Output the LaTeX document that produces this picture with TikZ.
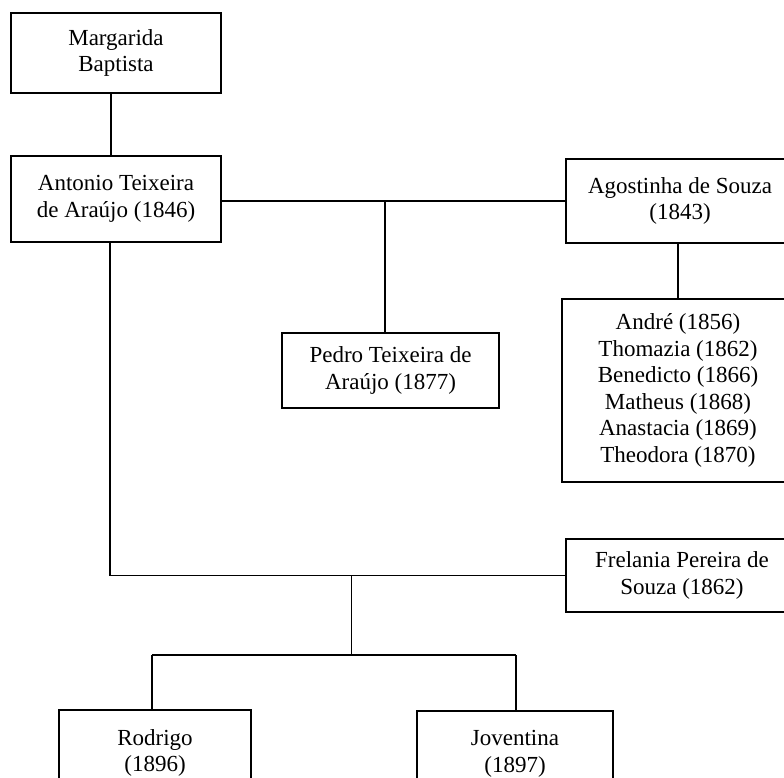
\documentclass[tikz,border=0pt]{standalone}
\usepackage{fontspec}
\setmainfont{Liberation Serif}
\begin{document}
\begin{tikzpicture}[x=1pt,y=-1pt,
  person/.style={draw, line width=1.5pt, inner sep=0pt, align=center,
    font=\fontsize{23}{26.5}\selectfont},
  link/.style={line width=1.2pt}]
\useasboundingbox (0,0) rectangle (784,777);
\clip (0,0) rectangle (784,777);

% family members
\node[person, minimum width=210pt, minimum height=80pt] (marg) at (116,53) {Margarida\\Baptista};
\node[person, minimum width=210pt, minimum height=86pt] (anto) at (116,199) {Antonio Teixeira\\de Ara\'ujo (1846)};
\node[person, minimum width=228pt, minimum height=84pt] (agos) at (680,201) {Agostinha de Souza\\(1843)};
\node[person, minimum width=217pt, minimum height=75pt] (pedro) at (390.5,370.5) {Pedro Teixeira de\\Ara\'ujo (1877)};
\node[person, minimum width=232pt, minimum height=183pt] (kids) at (678,390.5) {Andr\'e (1856)\\Thomazia (1862)\\Benedicto (1866)\\Matheus (1868)\\Anastacia (1869)\\Theodora (1870)};
\node[person, minimum width=232pt, minimum height=73pt] (frel) at (682,575.5) {Frelania Pereira de\\Souza (1862)};
\node[person, minimum width=192pt, minimum height=86pt] (rod) at (155,753) {Rodrigo\\(1896)};
\node[person, minimum width=196pt, minimum height=86pt] (jov) at (515,754) {Joventina\\(1897)};

% junction points
\coordinate (xm) at (111,0);
\coordinate (xa) at (110,0);
\coordinate (jp) at (385,201);
\coordinate (xk) at (678,0);
\coordinate (jf) at (351.5,576);
\coordinate (jc) at (351.5,655);
\coordinate (jl) at (152,655);
\coordinate (jr) at (516,655);

% connectors
\draw[link] (marg.south -| xm) -- (anto.north -| xm);
\draw[link] (anto.east |- agos.west) -- (agos.west);
\draw[link] (jp) -- (jp |- pedro.north);
\draw[link] (agos.south -| xk) -- (kids.north -| xk);
\draw[link] (anto.south -| xa) |- (frel.west);
\draw[link] (jf) -- (jc);
\draw[link] (jl) -- (jr);
\draw[link] (jl) -- (jl |- rod.north);
\draw[link] (jr) -- (jr |- jov.north);
\end{tikzpicture}
\end{document}
